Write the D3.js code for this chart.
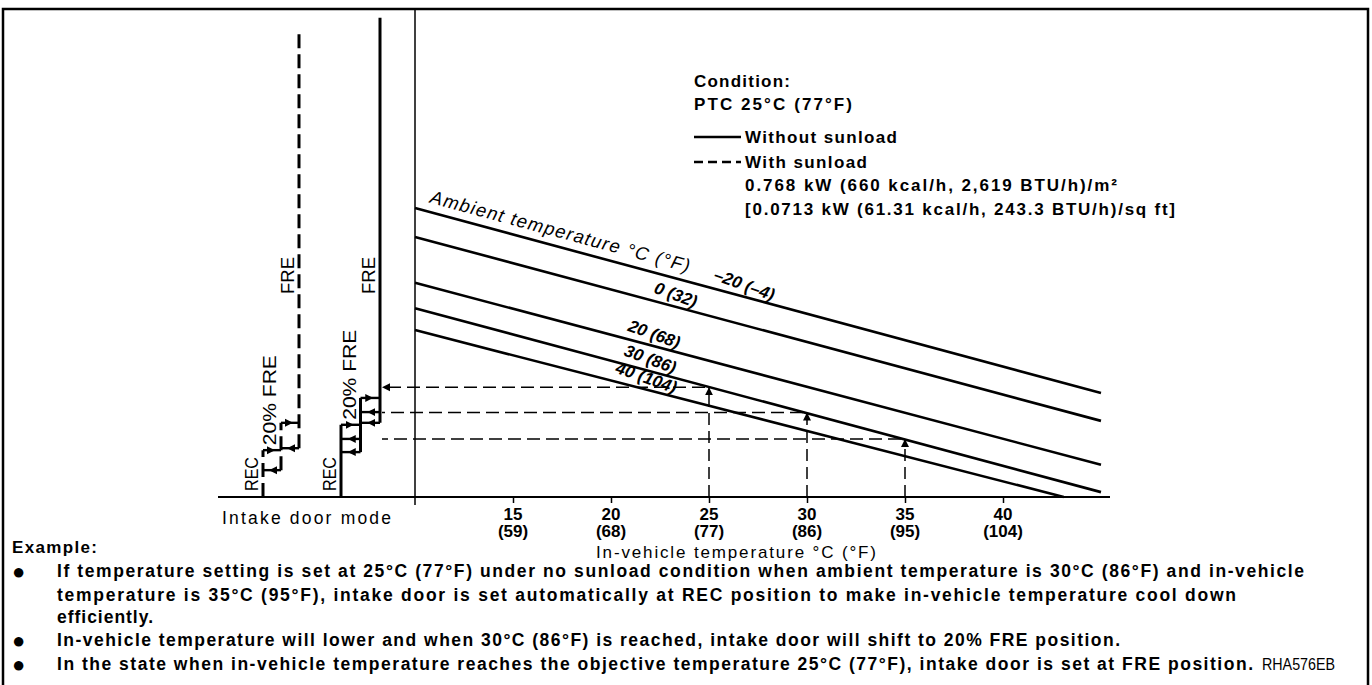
<!DOCTYPE html>
<html>
<head>
<meta charset="utf-8">
<script src="https://cdn.jsdelivr.net/npm/d3@7"></script>
<style>
body { margin: 0; background: #fff; }
svg { display: block; font-family: "Liberation Sans", Arial, Helvetica, sans-serif; }
.b { font-weight: bold; }
</style>
</head>
<body>
<svg id="chart" width="1372" height="685"></svg>
<script>
// in-vehicle temperature ticks
var tickC = [15, 20, 25, 30, 35, 40];
var tickF = [59, 68, 77, 86, 95, 104];

// ambient temperature lines: level at 10°C and at the right end
var ambientC = ["\u201320", "0", "20", "30", "40"];
var ambientF = ["\u20134", "32", "68", "86", "104"];
var lineStart = [59.2, 53.3, 43.9, 38.7, 34.2];
var lineEndT = [45, 45, 45, 45, 43.1];
var lineEnd = [21.3, 15.6, 6.6, 1.0, 0];
var labelT = [26.6, 23.1, 22.0, 21.8, 21.6];

// intake door modes and switching levels (hysteresis)
var modes = ["REC", "20% FRE", "FRE"];
var solidBox1 = [9.2, 11.9, 14.8];
var solidBox2 = [15.2, 17.4, 20.3];
var solidTop = 98.2;
var dashBox1 = [5.5, 9.6];
var dashBox2 = [10.0, 15.2];
var dashTop = 95.7;

// example: in-vehicle temps and the level read on the 30°C ambient line
var exampleT = [25, 30, 35];
var exampleLevel = [22.5, 17.3, 11.9];

var legendLines = [
  {t: "Condition:", w: 96, y: 87},
  {t: "PTC 25\u00B0C (77\u00B0F)", w: 158, y: 110},
  {t: "Without sunload", w: 152, y: 143, x: 745},
  {t: "With sunload", w: 122, y: 168, x: 745},
  {t: "0.768 kW (660 kcal/h, 2,619 BTU/h)/m\u00B2", w: 372, y: 191, x: 745},
  {t: "[0.0713 kW (61.31 kcal/h, 243.3 BTU/h)/sq ft]", w: 430, y: 215, x: 745}
];

var notes = [
  {t: "If temperature setting is set at 25\u00B0C (77\u00B0F) under no sunload condition when ambient temperature is 30\u00B0C (86\u00B0F) and in-vehicle", w: 1247, y: 577, bullet: true},
  {t: "temperature is 35\u00B0C (95\u00B0F), intake door is set automatically at REC position to make in-vehicle temperature cool down", w: 1179, y: 601},
  {t: "efficiently.", w: 96, y: 623},
  {t: "In-vehicle temperature will lower and when 30\u00B0C (86\u00B0F) is reached, intake door will shift to 20% FRE position.", w: 1063, y: 646, bullet: true},
  {t: "In the state when in-vehicle temperature reaches the objective temperature 25\u00B0C (77\u00B0F), intake door is set at FRE position.", w: 1196, y: 670, bullet: true}
];

var svg = d3.select("#chart");
var x = d3.scaleLinear().domain([10, 45]).range([415, 1101]);
var y = d3.scaleLinear().domain([0, 100]).range([497, 9]);
var modeSolid = d3.scalePoint().domain(modes).range([341, 380]);
var modeDash = d3.scalePoint().domain(modes).range([263, 299]);

var defs = svg.append("defs");
defs.append("marker").attr("id", "arrow")
  .attr("viewBox", "0 0 10 10").attr("refX", 10).attr("refY", 5)
  .attr("markerWidth", 8).attr("markerHeight", 9)
  .attr("markerUnits", "userSpaceOnUse").attr("orient", "auto")
  .append("path").attr("d", "M0,0L10,5L0,10Z").attr("fill", "#000");

// frame
svg.append("path").attr("d", "M3,685V9H1368V685")
  .attr("fill", "none").attr("stroke", "#000").attr("stroke-width", 2.5);

// y axis line and base line
svg.append("line").attr("x1", x(10)).attr("x2", x(10)).attr("y1", 9).attr("y2", y(0) + 8)
  .attr("stroke", "#000").attr("stroke-width", 1.5);
svg.append("line").attr("x1", 218).attr("x2", x(45) + 9).attr("y1", y(0)).attr("y2", y(0))
  .attr("stroke", "#000").attr("stroke-width", 2);

// x axis
var xAxis = svg.append("g").attr("transform", "translate(0," + y(0) + ")")
  .call(d3.axisBottom(x).tickValues(tickC).tickSize(6).tickFormat(""));
xAxis.select(".domain").remove();
xAxis.selectAll(".tick line").attr("stroke-width", 1.5);
tickC.forEach(function(c, i) {
  var t = svg.append("text").attr("class", "b").attr("text-anchor", "middle")
    .attr("font-size", 17).attr("x", x(c));
  t.append("tspan").attr("x", x(c)).attr("y", 520).text(c);
  t.append("tspan").attr("x", x(c)).attr("y", 537).text("(" + tickF[i] + ")");
});
svg.append("text").attr("x", 596).attr("y", 558).attr("font-size", 17)
  .attr("textLength", 280).attr("lengthAdjust", "spacing")
  .text("In-vehicle temperature \u00B0C (\u00B0F)");
svg.append("text").attr("x", 222).attr("y", 524).attr("font-size", 17.5)
  .attr("textLength", 169).attr("lengthAdjust", "spacing")
  .text("Intake door mode");

// ambient lines
var line = d3.line().x(function(d) { return x(d[0]); }).y(function(d) { return y(d[1]); });
function levelAt(i, t) {
  return lineStart[i] + (lineEnd[i] - lineStart[i]) * (t - 10) / (lineEndT[i] - 10);
}
ambientC.forEach(function(c, i) {
  svg.append("path").attr("d", line([[10, lineStart[i]], [lineEndT[i], lineEnd[i]]]))
    .attr("fill", "none").attr("stroke", "#000").attr("stroke-width", 2.6);
  var ang = Math.atan2(y(lineEnd[i]) - y(lineStart[i]), x(lineEndT[i]) - x(10)) * 180 / Math.PI;
  var px = x(labelT[i]), py = y(levelAt(i, labelT[i]));
  svg.append("text").attr("class", "b").attr("font-style", "italic").attr("font-size", 17)
    .attr("text-anchor", "middle")
    .attr("transform", "translate(" + px + "," + py + ") rotate(" + (ang + 5) + ") translate(0,-6)")
    .text(c + " (" + ambientF[i] + ")");
});
(function() {
  var ang = Math.atan2(y(lineEnd[0]) - y(lineStart[0]), x(lineEndT[0]) - x(10)) * 180 / Math.PI;
  var px = x(10.6), py = y(levelAt(0, 10.6));
  svg.append("text").attr("font-style", "italic").attr("font-size", 18.5)
    .attr("transform", "translate(" + px + "," + py + ") rotate(" + ang + ") translate(0,-9)")
    .attr("textLength", 268).attr("lengthAdjust", "spacing")
    .text("Ambient temperature \u00B0C (\u00B0F)");
})();

// example dashed guides
exampleT.forEach(function(t, i) {
  svg.append("line").attr("x1", x(t)).attr("x2", x(t))
    .attr("y1", y(0)).attr("y2", y(exampleLevel[i]))
    .attr("stroke", "#000").attr("stroke-width", 1.5).attr("stroke-dasharray", "12,6")
    .attr("marker-end", "url(#arrow)");
  var h = svg.append("line").attr("x1", x(t) - 4).attr("x2", modeSolid("FRE") + 2)
    .attr("y1", y(exampleLevel[i])).attr("y2", y(exampleLevel[i]))
    .attr("stroke", "#000").attr("stroke-width", 1.5).attr("stroke-dasharray", "13,6");
  if (i === 0) h.attr("marker-end", "url(#arrow)");
});

// intake door step charts
function drawStep(mx, box1, box2, top, dashed) {
  var g = svg.append("g");
  var dash = dashed ? "14,6" : null;
  var b1min = d3.min(box1), b1max = d3.max(box1), b2min = d3.min(box2), b2max = d3.max(box2);
  function vline(m, v0, v1) {
    g.append("line").attr("x1", mx(m)).attr("x2", mx(m)).attr("y1", y(v0)).attr("y2", y(v1))
      .attr("stroke", "#000").attr("stroke-width", 3).attr("stroke-dasharray", dash);
  }
  function hlines(m0, m1, levels) {
    levels.forEach(function(v, k) {
      g.append("line").attr("x1", mx(m0)).attr("x2", mx(m1)).attr("y1", y(v)).attr("y2", y(v))
        .attr("stroke", "#000").attr("stroke-width", 2.4);
      var right = k === levels.length - 1;
      var a = right ? mx(m0) + 2 : mx(m1) - 2;
      var b = (mx(m0) + mx(m1)) / 2 + (right ? 3 : -3);
      g.append("line").attr("x1", a).attr("x2", b).attr("y1", y(v)).attr("y2", y(v))
        .attr("stroke", "none").attr("marker-end", "url(#arrow)");
    });
  }
  vline("REC", 0, b1max);
  hlines("REC", "20% FRE", box1);
  vline("20% FRE", b1min, b2max);
  hlines("20% FRE", "FRE", box2);
  vline("FRE", b2min, top);

  function label(m, yStart, len, txt) {
    g.append("text").attr("font-size", 18)
      .attr("transform", "translate(" + (mx(m) - 5) + "," + yStart + ") rotate(-90)")
      .attr("textLength", len).attr("lengthAdjust", "spacingAndGlyphs")
      .text(txt);
  }
  label("REC", y(0) - 6, 34, "REC");
  label("20% FRE", y(b1max) - 5, 90, "20% FRE");
  label("FRE", 294, 37, "FRE");
}
drawStep(modeDash, dashBox1, dashBox2, dashTop, true);
drawStep(modeSolid, solidBox1, solidBox2, solidTop, false);

// legend
legendLines.forEach(function(d) {
  svg.append("text").attr("class", "b").attr("font-size", 17)
    .attr("x", d.x || 694).attr("y", d.y)
    .attr("textLength", d.w).attr("lengthAdjust", "spacing").text(d.t);
});
svg.append("line").attr("x1", 694).attr("x2", 741).attr("y1", 137).attr("y2", 137)
  .attr("stroke", "#000").attr("stroke-width", 2.5);
svg.append("line").attr("x1", 694).attr("x2", 741).attr("y1", 162).attr("y2", 162)
  .attr("stroke", "#000").attr("stroke-width", 2.5).attr("stroke-dasharray", "9,5");

// example notes
svg.append("text").attr("class", "b").attr("font-size", 17).attr("x", 12).attr("y", 553)
  .attr("textLength", 85).attr("lengthAdjust", "spacing").text("Example:");
notes.forEach(function(d) {
  if (d.bullet) {
    svg.append("text").attr("font-size", 22).attr("x", 12).attr("y", d.y + 2).text("\u25CF");
  }
  svg.append("text").attr("class", "b").attr("font-size", 17.5).attr("x", 57).attr("y", d.y)
    .attr("textLength", d.w).attr("lengthAdjust", "spacing").text(d.t);
});
svg.append("text").attr("font-size", 16).attr("x", 1262).attr("y", 670)
  .attr("textLength", 73).attr("lengthAdjust", "spacingAndGlyphs").text("RHA576EB");
</script>
</body>
</html>
